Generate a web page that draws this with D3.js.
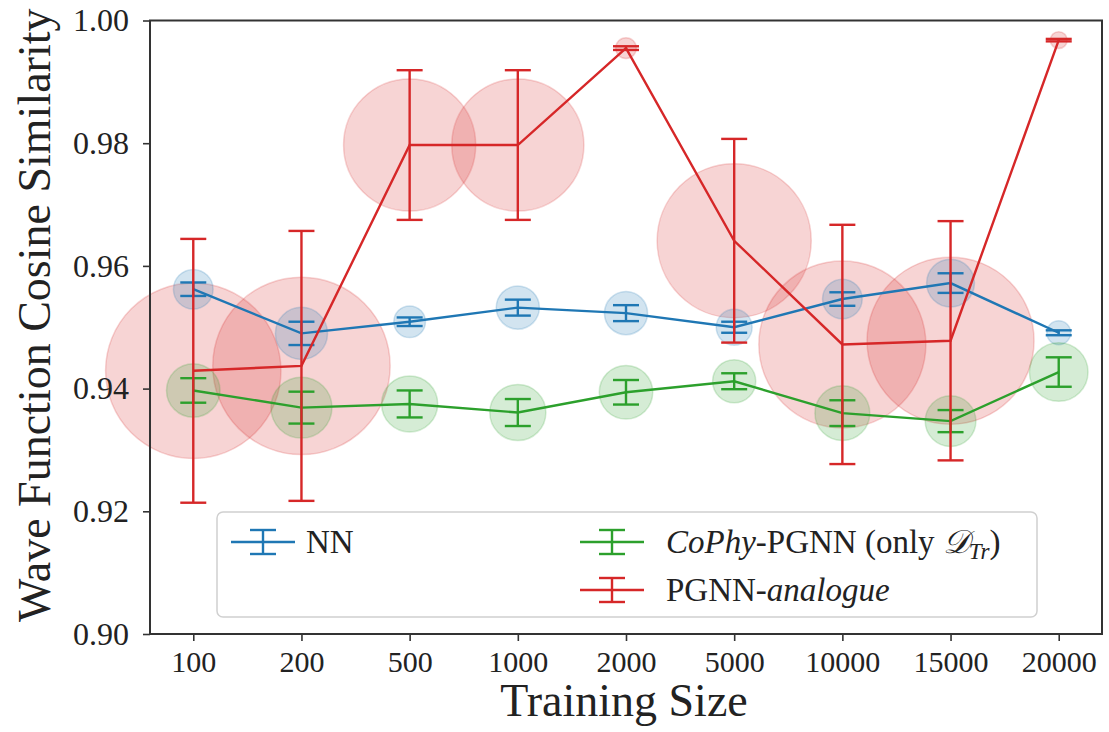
<!DOCTYPE html>
<html>
<head>
<meta charset="utf-8">
<script src="https://cdn.jsdelivr.net/npm/d3@7"></script>
<style>
  html, body { margin: 0; padding: 0; background: #fff; }
  svg text { font-family: "Liberation Serif", "DejaVu Serif", serif; fill: #222; }
</style>
</head>
<body>
<svg id="chart" width="1109" height="732"></svg>
<script>
// ---------- data ----------
const trainingSizes = ["100", "200", "500", "1000", "2000", "5000", "10000", "15000", "20000"];
const nnMean    = [0.9562, 0.9490, 0.9509, 0.9532, 0.9523, 0.9500, 0.9546, 0.9572, 0.9491];
const nnErr     = [0.0011, 0.0019, 0.0007, 0.0013, 0.0013, 0.0009, 0.0011, 0.0016, 0.0004];
const cophyMean = [0.9397, 0.9369, 0.9375, 0.9361, 0.9394, 0.9412, 0.9360, 0.9347, 0.9427];
const cophyErr  = [0.0020, 0.0026, 0.0022, 0.0022, 0.0020, 0.0013, 0.0021, 0.0018, 0.0024];
const pgnnMean  = [0.9429, 0.9437, 0.9797, 0.9797, 0.9955, 0.9641, 0.9472, 0.9478, 0.9968];
const pgnnErr   = [0.0215, 0.0220, 0.0122, 0.0122, 0.0003, 0.0166, 0.0195, 0.0195, 0.0002];
const yTicks    = [0.90, 0.92, 0.94, 0.96, 0.98, 1.00];

const series = [
  { name: "NN", mean: nnMean, err: nnErr, color: "#1f77b4" },
  { name: "CoPhy", mean: cophyMean, err: cophyErr, color: "#2ca02c" },
  { name: "PGNN", mean: pgnnMean, err: pgnnErr, color: "#d62728" }
];

// ---------- layout ----------
const svg = d3.select("#chart");
const L = 150, R = 1102, T = 20.5, B = 634;

const x = d3.scalePoint().domain(trainingSizes).range([L, R]).padding(0.4);
const y = d3.scaleLinear().domain([0.90, 1.00]).range([B, T]);
const rScale = d3.scaleSqrt().domain([0, 0.022]).range([0, 88.7]);

const plot = svg.append("g");

// circles (spread indicators) — red first, then blue, then green
const circleOrder = [series[2], series[0], series[1]];
circleOrder.forEach(s => {
  plot.append("g").selectAll("circle")
    .data(trainingSizes.map((k, i) => ({ k, m: s.mean[i], e: s.err[i] })))
    .join("circle")
    .attr("cx", d => x(d.k))
    .attr("cy", d => y(d.m))
    .attr("r", d => rScale(d.e))
    .attr("fill", s.color)
    .attr("fill-opacity", 0.2)
    .attr("stroke", s.color)
    .attr("stroke-opacity", 0.2)
    .attr("stroke-width", 1.5);
});

// lines + error bars
const cap = 13;
series.forEach(s => {
  const pts = trainingSizes.map((k, i) => ({ k, m: s.mean[i], e: s.err[i] }));
  const g = plot.append("g");
  g.append("path")
    .datum(pts)
    .attr("d", d3.line().x(d => x(d.k)).y(d => y(d.m)))
    .attr("fill", "none")
    .attr("stroke", s.color)
    .attr("stroke-width", 2.4);
  const eb = g.selectAll("g.eb").data(pts).join("g").attr("class", "eb");
  eb.append("line")
    .attr("x1", d => x(d.k)).attr("x2", d => x(d.k))
    .attr("y1", d => y(d.m - d.e)).attr("y2", d => y(d.m + d.e))
    .attr("stroke", s.color).attr("stroke-width", 2.4);
  [-1, 1].forEach(sign => {
    eb.append("line")
      .attr("x1", d => x(d.k) - cap).attr("x2", d => x(d.k) + cap)
      .attr("y1", d => y(d.m + sign * d.e)).attr("y2", d => y(d.m + sign * d.e))
      .attr("stroke", s.color).attr("stroke-width", 2.4);
  });
});

// ---------- axes ----------
const axisColor = "#333";
const yAxis = svg.append("g")
  .attr("transform", `translate(${L},0)`)
  .call(d3.axisLeft(y).tickValues(yTicks).tickFormat(d3.format(".2f")).tickSize(7).tickPadding(14));
const xAxis = svg.append("g")
  .attr("transform", `translate(0,${B})`)
  .call(d3.axisBottom(x).tickSize(7).tickPadding(10));
[yAxis, xAxis].forEach(a => {
  a.select(".domain").remove();
  a.selectAll(".tick line").attr("stroke", axisColor).attr("stroke-width", 1.6);
  a.selectAll(".tick text").attr("fill", "#222")
    .style("font-family", '"Liberation Serif", serif');
});
yAxis.selectAll(".tick text").attr("font-size", 32);
xAxis.selectAll(".tick text").attr("font-size", 30);

// frame
svg.append("rect")
  .attr("x", L).attr("y", T).attr("width", R - L).attr("height", B - T)
  .attr("fill", "none").attr("stroke", axisColor).attr("stroke-width", 2);

// axis labels
svg.append("text")
  .attr("x", 624).attr("y", 716)
  .attr("text-anchor", "middle").attr("font-size", 46)
  .text("Training Size");
svg.append("text")
  .attr("transform", `translate(50,${(T + B) / 2 - 12}) rotate(-90)`)
  .attr("text-anchor", "middle").attr("font-size", 46)
  .text("Wave Function Cosine Similarity");

// ---------- legend ----------
const lg = svg.append("g");
lg.append("rect")
  .attr("x", 217).attr("y", 512).attr("width", 820).attr("height", 105)
  .attr("rx", 6).attr("ry", 6)
  .attr("fill", "#fff").attr("fill-opacity", 0.8)
  .attr("stroke", "#d0d0d0").attr("stroke-width", 1.5);

function handle(cx, cy, color) {
  const h = lg.append("g").attr("stroke", color).attr("stroke-width", 2.4);
  h.append("line").attr("x1", cx - 32).attr("x2", cx + 32).attr("y1", cy).attr("y2", cy);
  h.append("line").attr("x1", cx).attr("x2", cx).attr("y1", cy - 12).attr("y2", cy + 12);
  h.append("line").attr("x1", cx - cap).attr("x2", cx + cap).attr("y1", cy - 12).attr("y2", cy - 12);
  h.append("line").attr("x1", cx - cap).attr("x2", cx + cap).attr("y1", cy + 12).attr("y2", cy + 12);
}
const row1 = 542, row2 = 590;
handle(263, row1, series[0].color);
handle(612, row1, series[1].color);
handle(612, row2, series[2].color);

const lfs = 33;
lg.append("text").attr("x", 306).attr("y", row1 + 11).attr("font-size", lfs).text("NN");

const t2 = lg.append("text").attr("x", 666).attr("y", row1 + 11).attr("font-size", lfs);
t2.append("tspan").attr("font-style", "italic").text("CoPhy");
t2.append("tspan").text("-PGNN (only ");
t2.append("tspan").attr("font-style", "italic").text("𝒟");
t2.append("tspan").attr("font-style", "italic").attr("font-size", lfs * 0.7).attr("dy", 6).text("Tr");
t2.append("tspan").attr("dy", -6).text(")");

const t3 = lg.append("text").attr("x", 666).attr("y", row2 + 11).attr("font-size", lfs);
t3.append("tspan").text("PGNN-");
t3.append("tspan").attr("font-style", "italic").text("analogue");
</script>
</body>
</html>
